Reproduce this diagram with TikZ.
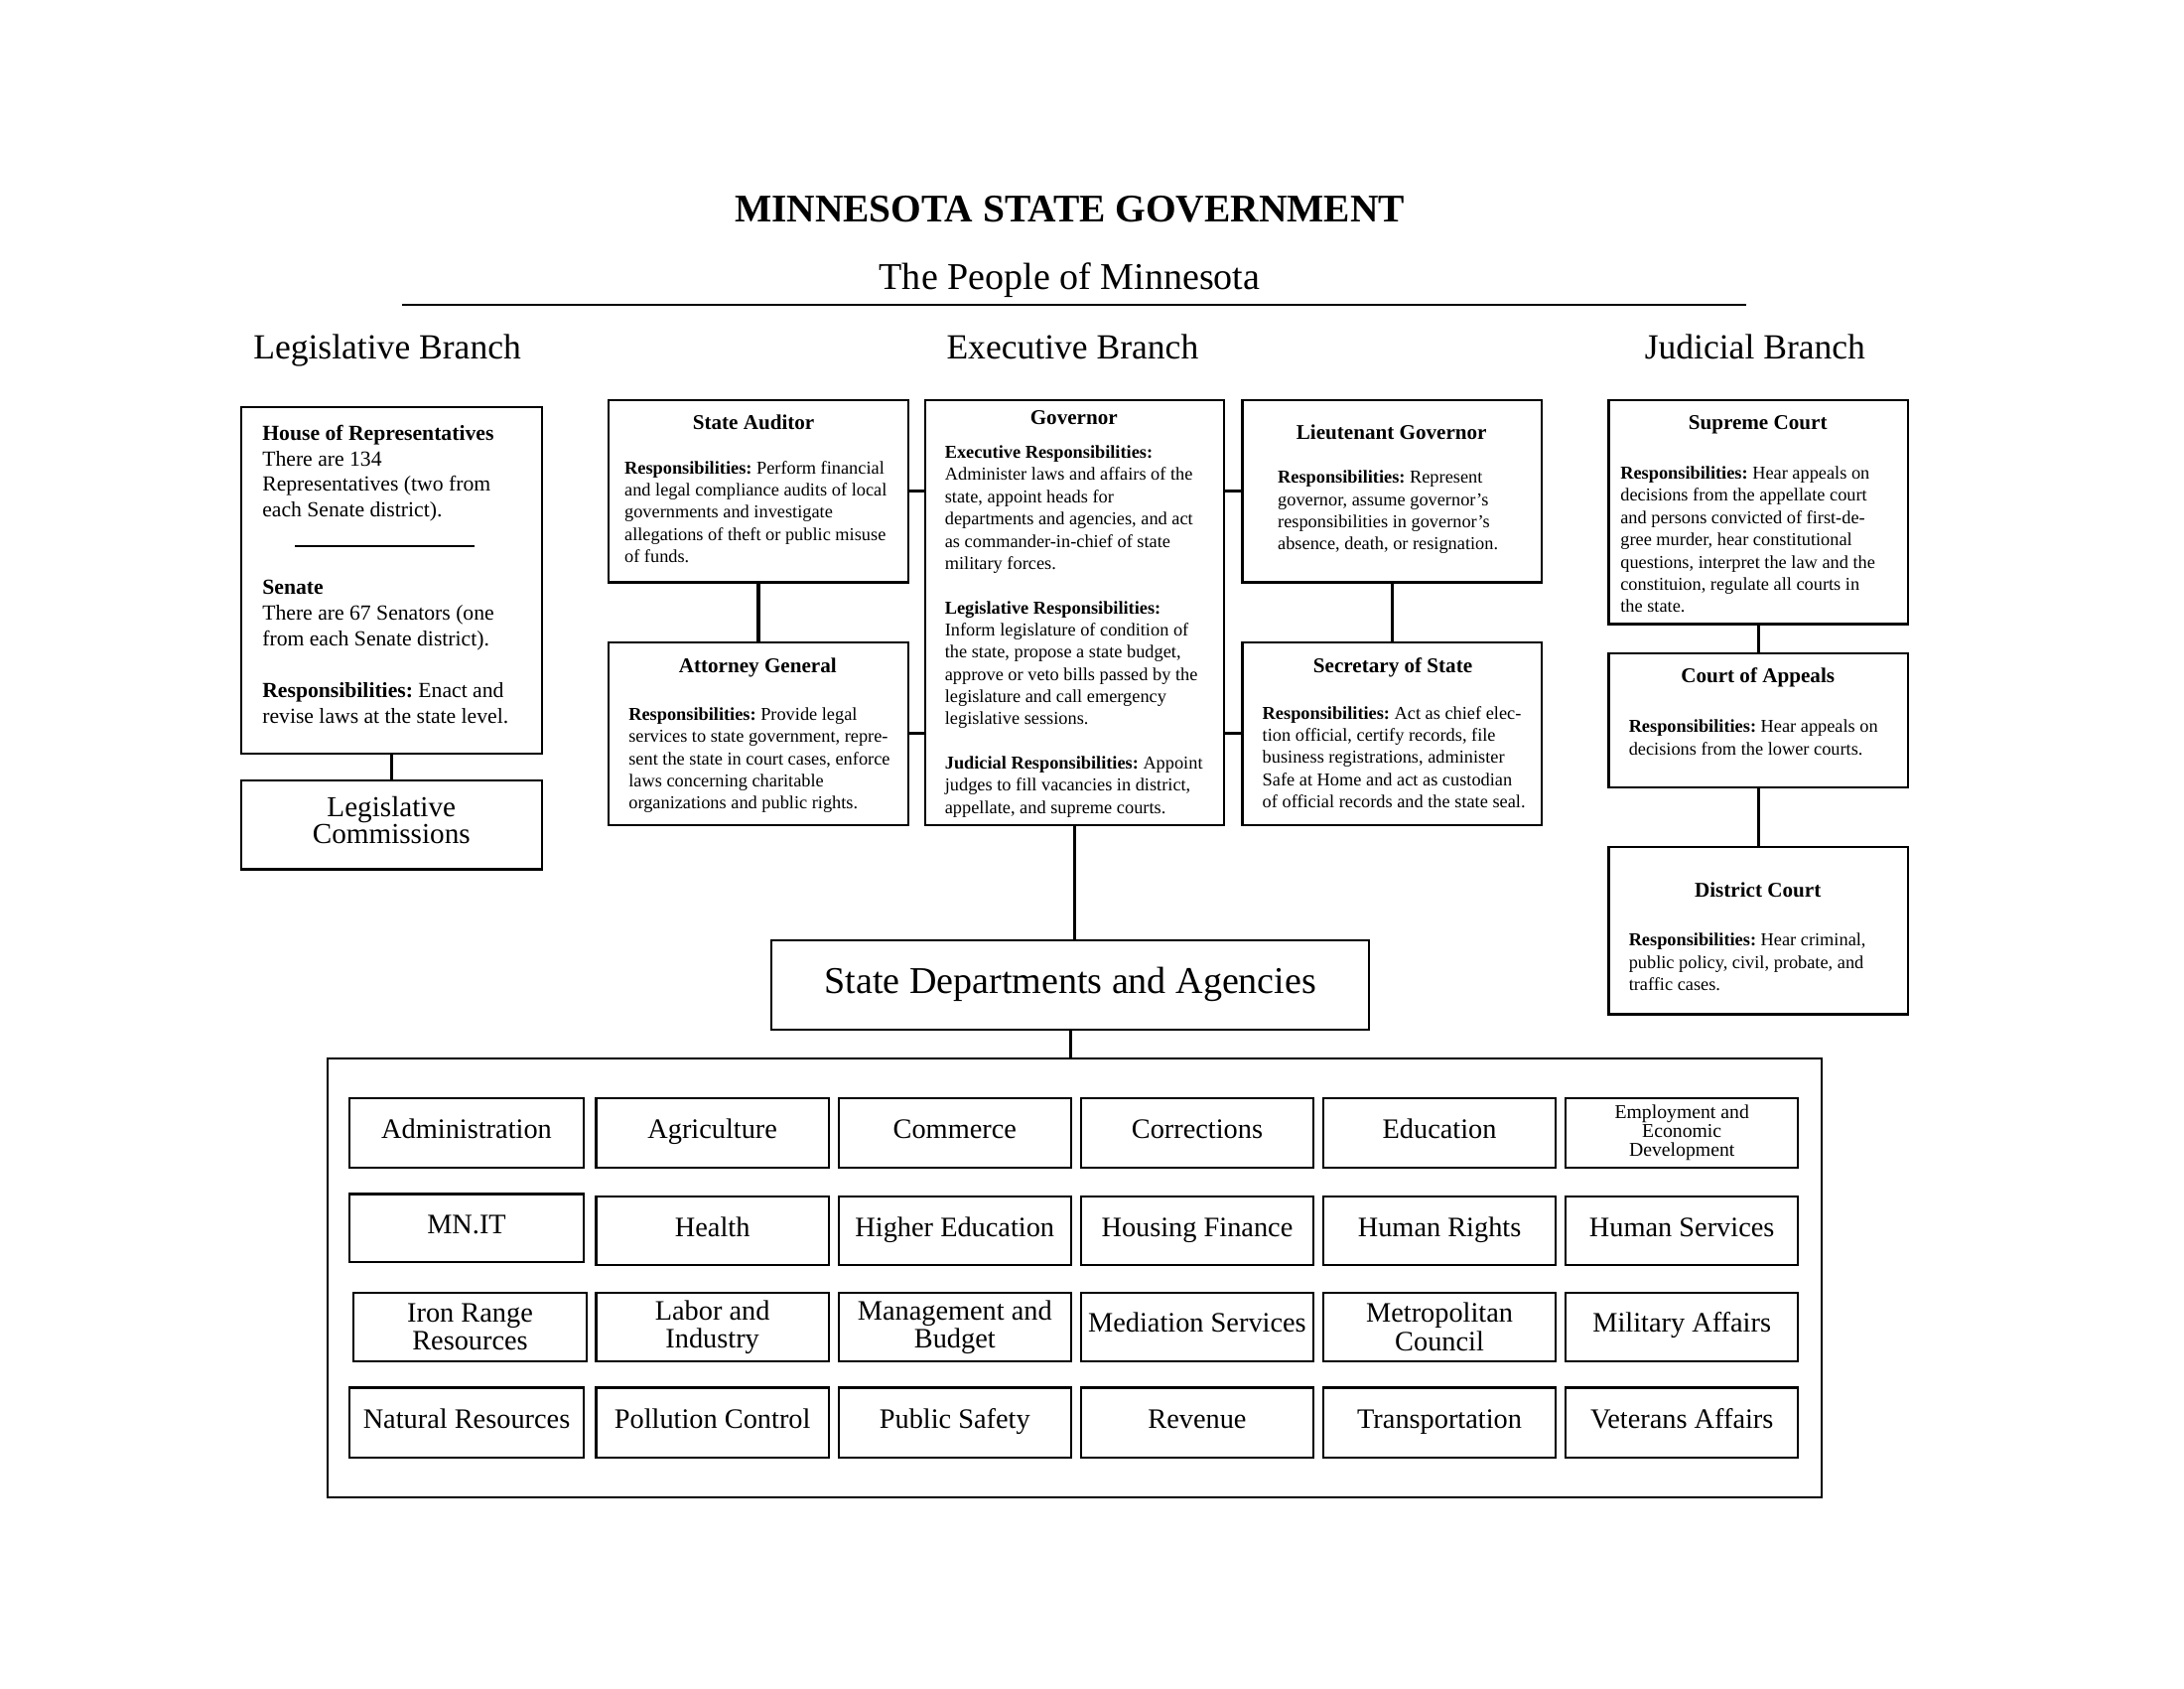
\documentclass[tikz,border=0pt]{standalone}
\usepackage{fontspec}
\setmainfont{Liberation Serif}
\usetikzlibrary{fit}
\frenchspacing
\newcommand\deptbox[6]{\node[dept, fit={(#2,#3) (#4,#5)}] (#1) {}; \node[lbl] (#1t) at (#1.center) {#6};}
\newcommand\deptboxii[6]{\node[dept, fit={(#2,#3) (#4,#5)}] (#1) {}; \node[lbltwo] (#1t) at (#1.center) {#6};}
\begin{document}
\begin{tikzpicture}[x=0.5051pt,y=-0.5051pt,
  box/.style={draw, line width=0.8pt, inner sep=0pt},
  dept/.style={box},
  lbl/.style={inner sep=0pt, text height=6pt, text depth=2pt, font=\fontsize{10.2}{10.2}\selectfont},
  lbltwo/.style={inner sep=0pt, align=center, font=\fontsize{10.2}{10.2}\selectfont},
  conn/.style={line width=1.2pt},
  ttl/.style={inner sep=0pt, font=\bfseries\fontsize{7.6}{9}\selectfont},
  body/.style={anchor=north west, inner sep=0pt, align=left, font=\fontsize{6.6}{8.05}\selectfont},
  head/.style={inner sep=0pt, anchor=base, font=\fontsize{12.8}{14}\selectfont}]
\fill[white] (0,0) rectangle (1568,1212);
\useasboundingbox (0,0) rectangle (1568,1212);

% titles
\node[inner sep=0pt, anchor=base, font=\bfseries\fontsize{14.2}{16}\selectfont] (title) at (768,159) {MINNESOTA STATE GOVERNMENT};
\node[inner sep=0pt, anchor=base, font=\fontsize{13.7}{16}\selectfont] (people) at (768,208) {The People of Minnesota};
\coordinate (ruleL) at (289,219);
\coordinate (ruleR) at (1254,219);
\draw[line width=0.6pt] (ruleL) -- (ruleR);
\node[head] (legh) at (278,258) {Legislative Branch};
\node[head] (exeh) at (770,258) {Executive Branch};
\node[head] (judh) at (1260,258) {Judicial Branch};

% legislative
\node[box, fit={(173,292) (389,541)}] (leg) {};
\node[body, font=\fontsize{7.8}{9.35}\selectfont] (legt) at (188,304.5) {\textbf{House of Representatives}\\There are 134\\Representatives (two from\\each Senate district).\\[18.7pt]\textbf{Senate}\\There are 67 Senators (one\\from each Senate district).\\[9.35pt]\textbf{Responsibilities:} Enact and\\revise laws at the state level.};
\coordinate (divL) at (212,392);
\coordinate (divR) at (341,392);
\draw[line width=0.9pt] (divL) -- (divR);
\node[box, fit={(173,560) (389,624)}] (legc) {};
\node[inner sep=0pt, align=center, font=\fontsize{10.5}{9.7}\selectfont] (legct) at ([yshift=1.8pt]legc.center) {Legislative\\Commissions};
\draw[conn] (leg.south) -- (legc.north);

% executive
\node[box, fit={(437,287) (652,418)}] (sa) {};
\node[ttl] (sat) at (541,303) {State Auditor};
\node[body] (sab) at (448,330.5) {\textbf{Responsibilities:} Perform financial\\and legal compliance audits of local\\governments and investigate\\allegations of theft or public misuse\\of funds.};

\node[box, fit={(437,461) (652,592)}] (ag) {};
\node[ttl] (agt) at (544,479) {Attorney General};
\node[body] (agb) at (451,507.5) {\textbf{Responsibilities:} Provide legal\\services to state government, repre-\\sent the state in court cases, enforce\\laws concerning charitable\\organizations and public rights.};

\node[box, fit={(664,287) (879,592)}] (gov) {};
\node[ttl] (govt) at (771,300) {Governor};
\node[body] (govb) at (678,319.5) {\textbf{Executive Responsibilities:}\\Administer laws and affairs of the\\state, appoint heads for\\departments and agencies, and act\\as commander-in-chief of state\\military forces.\\[8.05pt]\textbf{Legislative Responsibilities:}\\Inform legislature of condition of\\the state, propose a state budget,\\approve or veto bills passed by the\\legislature and call emergency\\legislative sessions.\\[8.05pt]\textbf{Judicial Responsibilities:} Appoint\\judges to fill vacancies in district,\\appellate, and supreme courts.};

\node[box, fit={(892,287) (1107,418)}] (lg) {};
\node[ttl] (lgt) at (999,310) {Lieutenant Governor};
\node[body] (lgb) at (917,337.5) {\textbf{Responsibilities:} Represent\\governor, assume governor’s\\responsibilities in governor’s\\absence, death, or resignation.};

\node[box, fit={(892,461) (1107,592)}] (sos) {};
\node[ttl] (sost) at (1000,479) {Secretary of State};
\node[body] (sosb) at (906,506.5) {\textbf{Responsibilities:} Act as chief elec-\\tion official, certify records, file\\business registrations, administer\\Safe at Home and act as custodian\\of official records and the state seal.};

\draw[conn] (sa.south) -- (ag.north);
\draw[conn] (lg.south) -- (sos.north);
\draw[conn] (sa.east) -- (sa.east -| gov.west);
\draw[conn] (ag.east) -- (ag.east -| gov.west);
\draw[conn] (lg.west) -- (lg.west -| gov.east);
\draw[conn] (sos.west) -- (sos.west -| gov.east);

% judicial
\node[box, fit={(1155,287) (1370,448)}] (sup) {};
\node[ttl] (supt) at (1262,305) {Supreme Court};
\node[body] (supb) at (1163,334.5) {\textbf{Responsibilities:} Hear appeals on\\decisions from the appellate court\\and persons convicted of first-de-\\gree murder, hear constitutional\\questions, interpret the law and the\\constituion, regulate all courts in\\the state.};

\node[box, fit={(1155,469) (1370,565)}] (coa) {};
\node[ttl] (coat) at (1262,486) {Court of Appeals};
\node[body] (coab) at (1169,516.5) {\textbf{Responsibilities:} Hear appeals on\\decisions from the lower courts.};

\node[box, fit={(1155,608) (1370,728)}] (dc) {};
\node[ttl] (dct) at (1262,639) {District Court};
\node[body] (dcb) at (1169,669.5) {\textbf{Responsibilities:} Hear criminal,\\public policy, civil, probate, and\\traffic cases.};

\draw[conn] (sup.south) -- (coa.north);
\draw[conn] (coa.south) -- (dc.north);

% departments
\node[box, fit={(554,675) (983,739)}] (sd) {};
\node[inner sep=0pt, text height=8.5pt, text depth=2.5pt, font=\fontsize{13.7}{16}\selectfont] (sdt) at (sd.center) {State Departments and Agencies};
\draw[conn] (gov.south) -- (gov.south |- sd.north);
\node[box, fit={(235,760) (1308,1075)}] (big) {};
\draw[conn] (sd.south) -- (sd.south |- big.north);

% row 1
\deptbox{d11}{251}{788}{419}{838}{Administration}
\deptbox{d12}{428}{788}{595}{838}{Agriculture}
\deptbox{d13}{602}{788}{769}{838}{Commerce}
\deptbox{d14}{776}{788}{943}{838}{Corrections}
\deptbox{d15}{950}{788}{1117}{838}{Education}
\node[dept, fit={(1124,788) (1291,838)}] (d16) {};
\node[inner sep=0pt, align=center, font=\fontsize{7.1}{6.7}\selectfont] (d16t) at (d16.center) {Employment and\\Economic\\Development};
% row 2
\deptbox{d21}{251}{857}{419}{906}{MN.IT}
\deptbox{d22}{428}{859}{595}{908}{Health}
\deptbox{d23}{602}{859}{769}{908}{Higher Education}
\deptbox{d24}{776}{859}{943}{908}{Housing Finance}
\deptbox{d25}{950}{859}{1117}{908}{Human Rights}
\deptbox{d26}{1124}{859}{1291}{908}{Human Services}
% row 3
\deptboxii{d31}{254}{928}{421}{977}{Iron Range\\Resources}
\deptboxii{d32}{428}{928}{595}{977}{Labor and\\Industry}
\deptboxii{d33}{602}{928}{769}{977}{Management and\\Budget}
\deptbox{d34}{776}{928}{943}{977}{Mediation Services}
\deptboxii{d35}{950}{928}{1117}{977}{Metropolitan\\Council}
\deptbox{d36}{1124}{928}{1291}{977}{Military Affairs}
% row 4
\deptbox{d41}{251}{996}{419}{1046}{Natural Resources}
\deptbox{d42}{428}{996}{595}{1046}{Pollution Control}
\deptbox{d43}{602}{996}{769}{1046}{Public Safety}
\deptbox{d44}{776}{996}{943}{1046}{Revenue}
\deptbox{d45}{950}{996}{1117}{1046}{Transportation}
\deptbox{d46}{1124}{996}{1291}{1046}{Veterans Affairs}
\end{tikzpicture}
\end{document}
